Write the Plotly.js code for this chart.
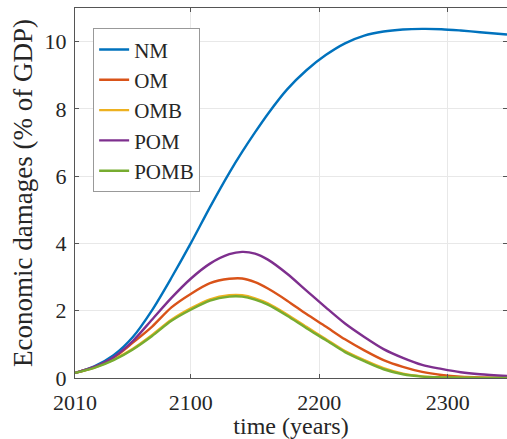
<!DOCTYPE html>
<html>
<head>
<meta charset="utf-8">
<script src="https://cdn.plot.ly/plotly-3.0.1.min.js"></script>
<style>html,body{margin:0;padding:0;background:#fff;}#chart{width:507px;height:439px;}</style>
</head>
<body>
<div id="chart"></div>
<script>
const years = [2010, 2025, 2040, 2055, 2070, 2085, 2100, 2115, 2130, 2140, 2150, 2160, 2175, 2190, 2205, 2220, 2235, 2250, 2265, 2280, 2295, 2310, 2325, 2346];
const NM   = [0.15, 0.35, 0.68, 1.22, 2.02, 2.98, 4.0, 5.08, 6.1, 6.72, 7.3, 7.85, 8.58, 9.15, 9.6, 9.95, 10.18, 10.3, 10.36, 10.38, 10.37, 10.33, 10.28, 10.21];
const OM   = [0.15, 0.32, 0.6, 1.05, 1.53, 2.1, 2.5, 2.82, 2.95, 2.96, 2.85, 2.66, 2.3, 1.9, 1.53, 1.15, 0.82, 0.53, 0.33, 0.18, 0.09, 0.04, 0.02, 0.01];
const OMB  = [0.15, 0.31, 0.55, 0.87, 1.28, 1.73, 2.07, 2.34, 2.46, 2.46, 2.37, 2.22, 1.89, 1.52, 1.16, 0.8, 0.53, 0.29, 0.13, 0.05, 0.02, 0.01, 0.005, 0];
const POM  = [0.15, 0.33, 0.62, 1.1, 1.74, 2.38, 2.95, 3.4, 3.68, 3.75, 3.7, 3.52, 3.1, 2.6, 2.1, 1.62, 1.22, 0.86, 0.6, 0.39, 0.27, 0.17, 0.11, 0.06];
const POMB = [0.15, 0.3, 0.53, 0.85, 1.25, 1.7, 2.03, 2.3, 2.42, 2.42, 2.33, 2.18, 1.85, 1.48, 1.13, 0.77, 0.5, 0.26, 0.11, 0.04, 0.02, 0.01, 0.005, 0];
const names = ['NM', 'OM', 'OMB', 'POM', 'POMB'];
const series = [NM, OM, OMB, POM, POMB];
const colors = ['#0072BD', '#D95319', '#EDB120', '#7E2F8E', '#77AC30'];
const xTicks = [2010, 2100, 2200, 2300];
const yTicks = [0, 2, 4, 6, 8, 10];

const font = 'Liberation Serif';
const traces = series.map((s, i) => ({
  x: years, y: s, name: names[i], type: 'scatter', mode: 'lines',
  line: {color: colors[i], width: 2.4, shape: 'spline', smoothing: 0.8}
}));

const layout = {
  width: 507, height: 439,
  margin: {l: 75, r: 0, t: 8, b: 61},
  paper_bgcolor: '#fff', plot_bgcolor: '#fff',
  font: {family: font, size: 22, color: '#262626'},
  showlegend: true,
  legend: {x: 0.042, y: 0.945, xanchor: 'left', yanchor: 'top', bgcolor: '#fff',
    bordercolor: '#999', borderwidth: 1, font: {family: font, size: 21, color: '#262626'},
    tracegroupgap: 0, itemwidth: 30},
  xaxis: {range: [2010, 2346], tickvals: xTicks, ticktext: xTicks.map(String),
    showgrid: true, gridcolor: '#e8e8e8', gridwidth: 1,
    showline: true, linecolor: '#555', linewidth: 1, mirror: 'ticks',
    ticks: 'inside', ticklen: 4, tickcolor: '#555', zeroline: false,
    ticklabelstandoff: 5, automargin: true,
    tickfont: {family: font, size: 22, color: '#262626'},
    title: {text: 'time (years)', font: {family: font, size: 24, color: '#262626'}, standoff: 3}},
  yaxis: {range: [0, 11], tickvals: yTicks, ticktext: yTicks.map(String),
    showgrid: true, gridcolor: '#e8e8e8', gridwidth: 1,
    showline: true, linecolor: '#555', linewidth: 1, mirror: 'ticks',
    ticks: 'inside', ticklen: 4, tickcolor: '#555', zeroline: false,
    ticklabelstandoff: 3,
    tickfont: {family: font, size: 22, color: '#262626'},
    title: {text: 'Economic damages (% of GDP)', font: {family: font, size: 27, color: '#262626'}, standoff: 4}}
};
Plotly.newPlot('chart', traces, layout, {displayModeBar: false, staticPlot: true});
</script>
</body>
</html>
